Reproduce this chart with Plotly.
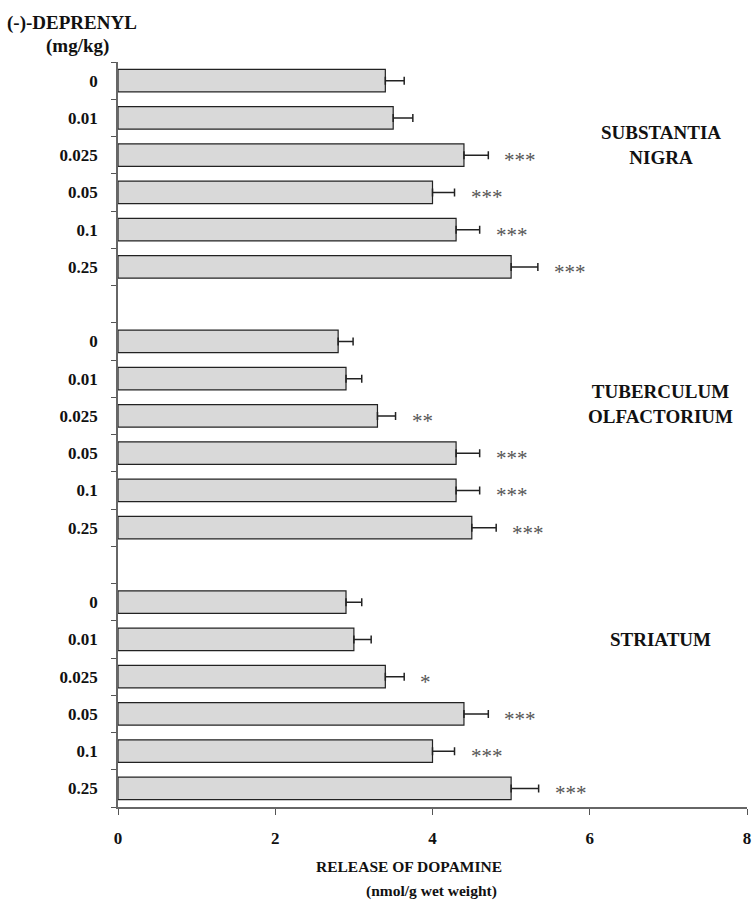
import plotly.graph_objects as go

# ---- data ----
doses = ["0", "0.01", "0.025", "0.05", "0.1", "0.25"]
regions = ["SUBSTANTIA<br>NIGRA", "TUBERCULUM<br>OLFACTORIUM", "STRIATUM"]

sn_values = [3.4, 3.5, 4.4, 4.0, 4.3, 5.0]
sn_errors = [0.24, 0.25, 0.31, 0.28, 0.30, 0.34]
sn_sig = ["", "", "***", "***", "***", "***"]

to_values = [2.8, 2.9, 3.3, 4.3, 4.3, 4.5]
to_errors = [0.19, 0.20, 0.23, 0.30, 0.30, 0.31]
to_sig = ["", "", "**", "***", "***", "***"]

st_values = [2.9, 3.0, 3.4, 4.4, 4.0, 5.0]
st_errors = [0.20, 0.22, 0.24, 0.31, 0.28, 0.35]
st_sig = ["", "", "*", "***", "***", "***"]

x_ticks = [0, 2, 4, 6, 8]

# ---- layout of slots (top group first) ----
groups = [(sn_values, sn_errors, sn_sig), (to_values, to_errors, to_sig), (st_values, st_errors, st_sig)]
n = len(doses)
total_slots = 3 * n + 2  # two gap slots

FONT = "Liberation Serif, Times New Roman, serif"
fig = go.Figure()

ypos_all, vals_all, errs_all, sig_all, labels_all = [], [], [], [], []
region_y = []
for g, (vals, errs, sigs) in enumerate(groups):
    start = total_slots - g * (n + 1)
    ys = [start - i - 0.5 for i in range(n)]
    ypos_all += ys
    vals_all += vals
    errs_all += errs
    sig_all += sigs
    labels_all += doses
    region_y.append(ys)

fig.add_trace(go.Bar(
    x=vals_all, y=ypos_all, orientation="h", width=0.6,
    marker=dict(color="#d9d9d9", line=dict(color="#222222", width=1.2)),
    error_x=dict(type="data", array=errs_all, arrayminus=[0] * len(errs_all),
                 symmetric=False, color="#222222", thickness=1.5, width=4),
    showlegend=False, hoverinfo="skip",
))

annotations = []
for v, e, s, y in zip(vals_all, errs_all, sig_all, ypos_all):
    if s:
        annotations.append(dict(x=v + e, y=y, xref="x", yref="y", text=s,
                                showarrow=False, xanchor="left", xshift=14, yshift=-5,
                                font=dict(family=FONT, size=21, color="#555555")))

# region labels
region_anchor = [2, 2, 1]
region_yshift = [10, 12, 0]
for r, ys, idx, sh in zip(regions, region_y, region_anchor, region_yshift):
    annotations.append(dict(x=6.9, y=ys[idx], xref="x", yref="y", text=r,
                            showarrow=False, xanchor="center", yshift=sh,
                            font=dict(family=FONT, size=19, color="#111111", weight="bold")))

# axis titles
annotations += [
    dict(x=-0.0733, y=1.052, xref="paper", yref="paper", text="(-)-DEPRENYL", showarrow=False,
         xanchor="center", yanchor="middle", font=dict(family=FONT, size=19, color="#111111", weight="bold")),
    dict(x=-0.0644, y=1.0215, xref="paper", yref="paper", text="(mg/kg)", showarrow=False,
         xanchor="center", yanchor="middle", font=dict(family=FONT, size=19, color="#111111", weight="bold")),
    dict(x=0.463, y=-0.0805, xref="paper", yref="paper", text="RELEASE OF DOPAMINE", showarrow=False,
         xanchor="center", yanchor="middle", font=dict(family=FONT, size=15.5, color="#111111", weight="bold")),
    dict(x=0.499, y=-0.1128, xref="paper", yref="paper", text="(nmol/g wet weight)", showarrow=False,
         xanchor="center", yanchor="middle", font=dict(family=FONT, size=15.5, color="#111111", weight="bold")),
]

fig.update_layout(
    width=756, height=903,
    margin=dict(l=117.5, r=4.5, t=62, b=96),
    plot_bgcolor="white", paper_bgcolor="white",
    annotations=annotations,
    xaxis=dict(range=[0, 8], tickvals=x_ticks, ticks="outside", ticklen=6, tickcolor="#555555",
               showline=True, linecolor="#666666", linewidth=2, showgrid=False, zeroline=False,
               tickfont=dict(family=FONT, size=17, color="#111111", weight="bold"),
               ticklabelstandoff=9),
    yaxis=dict(range=[0, total_slots], tickvals=ypos_all, ticktext=labels_all, ticks="",
               showline=True, linecolor="#666666", linewidth=1.5, showgrid=False, zeroline=False,
               tickfont=dict(family=FONT, size=17, color="#111111", weight="bold"),
               ticklabelstandoff=15,
               minor=dict(ticks="outside", dtick=1, tick0=0, ticklen=5, tickcolor="#555555", showgrid=False)),
)

fig.write_html("out.html")
